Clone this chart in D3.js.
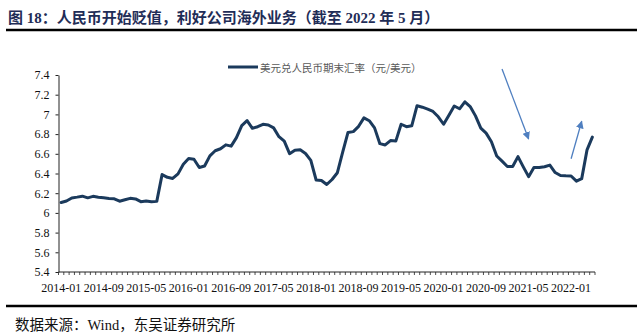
<!DOCTYPE html>
<html><head><meta charset="utf-8">
<script src="https://cdn.jsdelivr.net/npm/d3@7"></script>
<style>
html,body{margin:0;padding:0;background:#fff;}
svg{display:block;}
</style></head>
<body>
<script>
// ---------- data ----------
const startMonth = "2014-01";
const endMonth = "2022-05";
const rate = [
  6.105, 6.121, 6.152, 6.160, 6.170, 6.153, 6.168, 6.159, 6.153, 6.146, 6.143, 6.119,
  6.133, 6.148, 6.142, 6.114, 6.120, 6.114, 6.117, 6.389, 6.361, 6.350, 6.396, 6.494,
  6.552, 6.545, 6.461, 6.476, 6.579, 6.631, 6.651, 6.691, 6.678, 6.764, 6.887, 6.937,
  6.859, 6.875, 6.899, 6.893, 6.863, 6.774, 6.728, 6.601, 6.637, 6.640, 6.603, 6.534,
  6.334, 6.329, 6.288, 6.339, 6.408, 6.617, 6.817, 6.825, 6.879, 6.965, 6.936, 6.863,
  6.703, 6.690, 6.734, 6.729, 6.900, 6.875, 6.884, 7.088, 7.073, 7.053, 7.030, 6.976,
  6.900, 6.991, 7.085, 7.057, 7.128, 7.080, 6.985, 6.861, 6.810, 6.723, 6.578, 6.525,
  6.471, 6.471, 6.571, 6.467, 6.368, 6.460, 6.460, 6.468, 6.485, 6.410, 6.379, 6.376,
  6.375, 6.322, 6.348, 6.640, 6.770
];
const xTickLabels = ["2014-01","2014-09","2015-05","2016-01","2016-09","2017-05","2018-01",
  "2018-09","2019-05","2020-01","2020-09","2021-05","2022-01"];
const yTicks = [5.4, 5.6, 5.8, 6.0, 6.2, 6.4, 6.6, 6.8, 7.0, 7.2, 7.4];
const seriesName = "美元兑人民币期末汇率（元/美元）";
const title = "图 18：人民币开始贬值，利好公司海外业务（截至 2022 年 5 月）";
const source = "数据来源：Wind，东吴证券研究所";
// annotation arrows: [month label, value] start -> end
const arrowDown = [["2020-12", 7.46], ["2021-05", 6.75]];
const arrowUp = [["2022-01", 6.55], ["2022-03", 6.93]];

// ---------- chart ----------
const W = 643, H = 334;
const parse = d3.timeParse("%Y-%m");
const fmt = d3.timeFormat("%Y-%m");
const months = d3.timeMonth.range(parse(startMonth), d3.timeMonth.offset(parse(endMonth), 1)).map(fmt);
const data = months.map((m, i) => ({m, v: rate[i]}));

const svg = d3.select("body").append("svg").attr("width", W).attr("height", H);

const x = d3.scaleBand().domain(months).range([58.5, 595]).padding(0);
const y = d3.scaleLinear().domain([5.4, 7.4]).range([272, 75]);
const bw = x.bandwidth();
const cx = m => x(m) + bw / 2;

const serif = "'Liberation Serif','Times New Roman','Noto Sans CJK SC',serif";
const navy = "#1b3a5c";

// title
svg.append("text").attr("x", 8).attr("y", 23)
  .attr("font-family", "'Liberation Serif','Noto Sans CJK SC',serif")
  .attr("font-weight", "bold").attr("font-size", 15).attr("fill", "#1f2d57")
  .text(title);
svg.append("line").attr("x1", 6).attr("x2", 637).attr("y1", 30).attr("y2", 30)
  .attr("stroke", "#000").attr("stroke-width", 2.5);

// y axis
const yAxis = d3.axisLeft(y).tickValues(yTicks).tickSize(3).tickSizeOuter(0).tickPadding(6)
  .tickFormat(d => String(+d.toFixed(1)));
const gy = svg.append("g").attr("transform", "translate(58.5,0)").call(yAxis);
gy.selectAll("text").attr("font-family", serif).attr("font-size", 12).attr("fill", "#111");
gy.selectAll("line,path").attr("stroke", "#222");

// x axis (category boundaries ticks)
const gx = svg.append("g");
gx.append("line").attr("x1", x.range()[0]).attr("x2", x.range()[1])
  .attr("y1", y(5.4)).attr("y2", y(5.4)).attr("stroke", "#222");
const bounds = months.map(m => x(m)).concat([x.range()[1]]);
gx.selectAll("line.t").data(bounds).join("line").attr("class", "t")
  .attr("x1", d => d).attr("x2", d => d).attr("y1", y(5.4)).attr("y2", y(5.4) + 3)
  .attr("stroke", "#222").attr("stroke-width", 0.8);
gx.selectAll("text").data(xTickLabels).join("text")
  .attr("x", d => cx(d)).attr("y", y(5.4) + 20).attr("text-anchor", "middle")
  .attr("font-family", serif).attr("font-size", 12).attr("fill", "#111")
  .text(d => d);

// line
const line = d3.line().x(d => cx(d.m)).y(d => y(d.v)).curve(d3.curveLinear);
svg.append("path").datum(data).attr("d", line).attr("fill", "none")
  .attr("stroke", navy).attr("stroke-width", 3).attr("stroke-linejoin", "round").attr("stroke-linecap", "round");

// legend
svg.append("line").attr("x1", 228).attr("x2", 258).attr("y1", 67).attr("y2", 67)
  .attr("stroke", navy).attr("stroke-width", 3);
svg.append("text").attr("x", 260).attr("y", 71.5)
  .attr("font-family", "'Noto Sans CJK SC',sans-serif").attr("font-size", 10.5).attr("fill", "#595959")
  .text(seriesName);

// arrows
const defs = svg.append("defs");
defs.append("marker").attr("id", "ah").attr("viewBox", "0 0 10 10").attr("refX", 9).attr("refY", 5)
  .attr("markerWidth", 6).attr("markerHeight", 6).attr("orient", "auto").attr("markerUnits", "strokeWidth")
  .append("path").attr("d", "M0,0L10,5L0,10Z").attr("fill", "#4f7fc0");
[arrowDown, arrowUp].forEach(a => {
  svg.append("line")
    .attr("x1", cx(a[0][0])).attr("y1", y(a[0][1]))
    .attr("x2", cx(a[1][0])).attr("y2", y(a[1][1]))
    .attr("stroke", "#4f7fc0").attr("stroke-width", 1.3).attr("marker-end", "url(#ah)");
});

// footer
svg.append("line").attr("x1", 6).attr("x2", 637).attr("y1", 306).attr("y2", 306)
  .attr("stroke", "#000").attr("stroke-width", 2.5);
svg.append("text").attr("x", 15).attr("y", 330)
  .attr("font-family", serif).attr("font-size", 14.5).attr("fill", "#111")
  .text(source);
</script>
</body></html>
